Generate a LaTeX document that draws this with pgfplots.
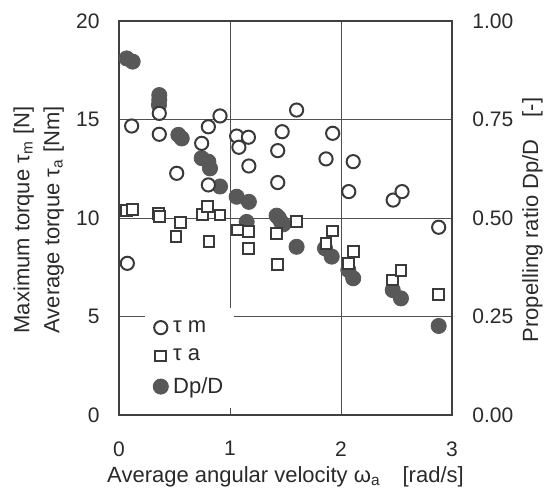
\documentclass[border=0pt]{standalone}
\usepackage{pgfplots}
\pgfplotsset{compat=1.18}
\usepackage{fontspec}
\setmainfont{Liberation Sans}
\definecolor{fr}{HTML}{404040}
\definecolor{gridc}{HTML}{505050}
\definecolor{mk}{HTML}{3A3A3A}
\definecolor{fillc}{HTML}{585858}
\definecolor{txt}{HTML}{2A2A2A}
\pgfplotsset{
  base/.style={
    scale only axis, width=166.5pt, height=197pt,
    xmin=0, xmax=3, clip=false,
    major tick length=0pt,
    /pgf/number format/assume math mode=true,
    tick label style={font=\fontsize{10.5}{12}\selectfont, text=txt},
  }
}
\begin{document}
\begin{tikzpicture}
\useasboundingbox (-59.5pt,-36.5pt) rectangle (213pt,207.5pt);
% frame, grid, left and bottom ticks
\begin{axis}[base,
  ymin=0, ymax=20,
  xtick={0,1,2,3}, ytick={0,5,10,15,20},
  axis line style={draw=fr, line width=1.4pt},
  grid=major, major grid style={draw=gridc, line width=0.5pt},
  yticklabel style={inner sep=0pt, xshift=-9.5pt},
  xticklabel style={inner sep=0pt, yshift=-13pt},
]
\end{axis}
% right axis: Dp/D
\begin{axis}[base,
  ymin=0, ymax=1,
  axis x line=none, axis y line*=right,
  axis line style={draw=fr, line width=1.4pt},
  ytick={0,0.25,0.5,0.75,1},
  yticklabel style={inner sep=0pt, xshift=10pt, /pgf/number format/.cd, fixed, fixed zerofill, precision=2},
]
\addplot[only marks, mark=*, mark size=3.8pt, mark options={draw=fillc, fill=fillc, line width=0.4pt}] coordinates {
(0.069,0.905) (0.123,0.897)
(0.363,0.812) (0.363,0.800) (0.360,0.787)
(0.535,0.711) (0.565,0.702)
(0.745,0.652) (0.805,0.643) (0.82,0.626)
(0.91,0.580)
(1.06,0.554) (1.17,0.541)
(1.15,0.490)
(1.42,0.506) (1.44,0.500) (1.46,0.490) (1.48,0.484)
(1.60,0.427)
(1.856,0.423) (1.916,0.402)
(2.066,0.368) (2.11,0.347)
(2.466,0.317) (2.54,0.296)
(2.88,0.226)
};
\end{axis}
% torques
\begin{axis}[base,
  ymin=0, ymax=20, hide axis,
  legend image code/.code={\path (0pt,0pt) (8pt,0pt); \draw[#1] plot coordinates {(4pt,0pt)};},
  legend style={at={(axis description cs:0.078,0.272)}, anchor=north west,
    draw=none, fill=white, font=\fontsize{11}{13}\selectfont, text=txt,
    inner xsep=3.5pt, inner ysep=4pt, row sep=2.8pt},
  legend cell align=left,
]
\addplot[forget plot, only marks, mark=square*, mark size=2.7pt, mark options={draw=mk, fill=white, line width=1pt}] coordinates {
(0.069,10.40) (0.123,10.44)
(0.358,10.24) (0.363,10.08)
(0.514,9.05) (0.556,9.78)
(0.75,10.19) (0.795,10.60) (0.81,8.80) (0.91,10.15)
(1.066,9.39) (1.166,9.30) (1.166,8.46)
(1.42,9.22) (1.43,7.65)
(1.60,9.83)
(1.865,8.70) (1.925,9.34)
(2.07,7.70) (2.11,8.29)
(2.466,6.85) (2.54,7.33)
(2.88,6.13)
};
\addplot[forget plot, only marks, mark=*, mark size=3.3pt, mark options={draw=mk, fill=white, line width=1pt}] coordinates {
(0.075,7.70) (0.114,14.67)
(0.363,15.31) (0.363,14.25)
(0.52,12.27)
(0.745,13.79) (0.805,14.63) (0.805,11.68) (0.91,15.18)
(1.06,14.16) (1.08,13.59) (1.166,14.10) (1.17,12.64)
(1.43,13.42) (1.43,11.80) (1.47,14.38)
(1.60,15.48)
(1.865,13.00) (1.925,14.30)
(2.07,11.34) (2.11,12.86)
(2.47,10.91) (2.55,11.34)
(2.88,9.53)
};
\addlegendimage{only marks, mark=*, mark size=3.3pt, mark options={draw=mk, fill=white, line width=1pt}}
\addlegendentry{τ m}
\addlegendimage{only marks, mark=square*, mark size=2.7pt, mark options={draw=mk, fill=white, line width=1pt}}
\addlegendentry{τ a}
\addlegendimage{only marks, mark=*, mark size=3.8pt, mark options={draw=fillc, fill=fillc, line width=0.4pt}}
\addlegendentry{Dp/D}
\end{axis}
\node[rotate=90, anchor=base, text=txt, font=\fontsize{11}{13}\selectfont] at (-44.8pt,97.5pt) {Maximum torque  τ\textsubscript{m} [N]};
\node[rotate=90, anchor=base, text=txt, font=\fontsize{11}{13}\selectfont] at (-29.8pt,97.5pt) {Average torque  τ\textsubscript{a} [Nm]};
\node[rotate=90, anchor=base, text=txt, font=\fontsize{11}{13}\selectfont] at (209.5pt,97.5pt) {Propelling ratio Dp/D\quad[-]};
\node[anchor=base, text=txt, font=\fontsize{11}{13}\selectfont] at (83.25pt,-33.8pt) {Average angular velocity ω\textsubscript{a}\quad [rad/s]};
\end{tikzpicture}
\end{document}
